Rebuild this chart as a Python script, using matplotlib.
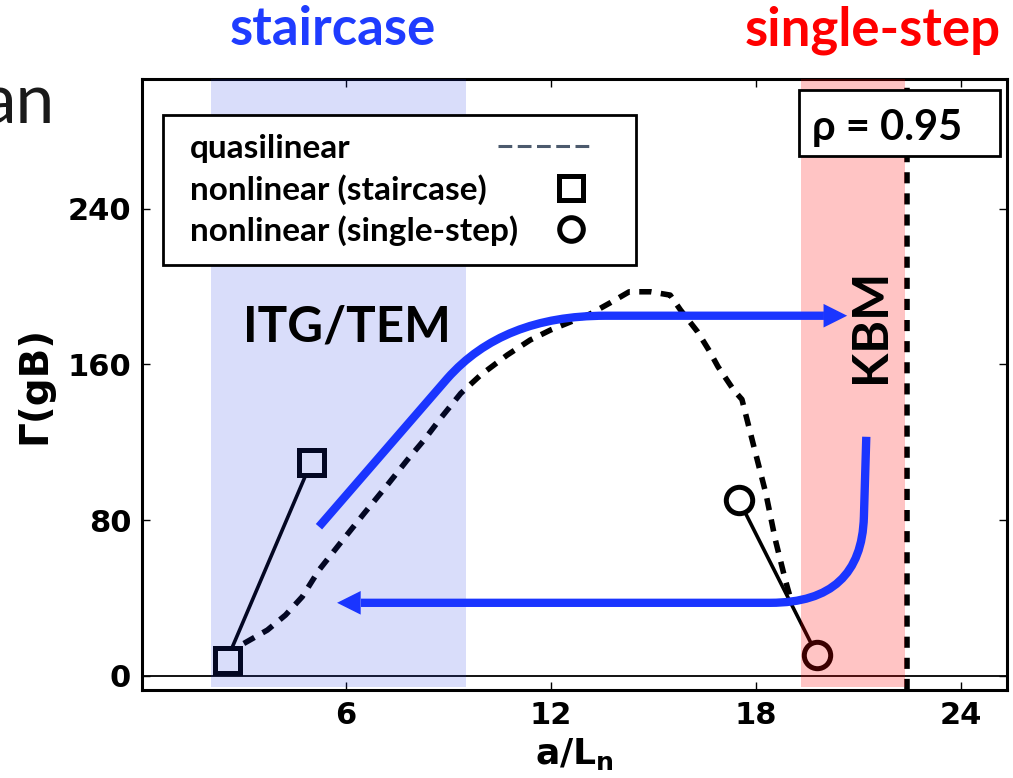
import matplotlib.pyplot as plt
from matplotlib.lines import Line2D
from matplotlib.legend_handler import HandlerLine2D
from matplotlib.offsetbox import DrawingArea
from matplotlib.path import Path
from matplotlib.patches import PathPatch, Rectangle

# quasilinear growth rate (dashed)
ql_x = [3.02, 3.71, 4.24, 4.73, 5.22, 5.8, 6.54, 7.22, 7.8, 8.29, 8.78, 9.37, 9.95,
        10.73, 11.4, 11.99, 13.17, 13.75, 14.3, 14.93, 15.5, 15.8, 16.3, 16.63,
        16.9, 17.36, 17.6, 17.95, 18.3, 18.58, 18.87, 19.05]
ql_y = [16.6, 23.5, 31.2, 40.6, 54.3, 67.2, 83.4, 98, 110.8, 121, 132.3, 145.1, 154.5,
        164.8, 172.5, 177.6, 186, 191.7, 197.3, 197.3, 195.6, 188, 176.8, 167.4,
        158.8, 146.8, 142, 117.7, 93.7, 69.7, 49.2, 38]

# nonlinear runs
stair_x = [2.52, 5.0]
stair_y = [8, 110]
single_x = [17.51, 19.8]
single_y = [90.3, 10.6]

# regions and rho = 0.95 limit
stair_band = (2.05, 9.52)
single_band = (19.32, 22.38)
rho_limit = 22.44

# hand-drawn blue arrows (vertices + path codes), head base -> tip
arrow_up_x = [5.22, 8.98, 10.6, 13.6, 20.0]
arrow_up_y = [76.6, 152.8, 185, 185, 185]
arrow_up_head = [(20.0, 185), (20.68, 185)]
arrow_down_x = [21.24, 21.17, 21.1, 18.44, 6.45]
arrow_down_y = [122.8, 81.7, 37.5, 37.5, 37.5]
arrow_down_head = [(6.45, 37.5), (5.75, 37.5)]
codes = [Path.MOVETO, Path.LINETO, Path.CURVE3, Path.CURVE3, Path.LINETO]

blue = '#1a35ff'
font = ['Lato', 'DejaVu Sans']


class EndMarkerHandler(HandlerLine2D):
    # line may reach left into the text column, marker sits at the right end
    def __init__(self, left_extra=0.0, right_gap=0.0, **kw):
        super().__init__(**kw)
        self.left_extra = left_extra
        self.right_gap = right_gap

    def get_xdata(self, legend, xdescent, ydescent, width, height, fontsize):
        x1 = -xdescent + width - self.right_gap
        return [-xdescent - self.left_extra, x1], [x1 - 10]


fig = plt.figure(figsize=(10.13, 7.78), dpi=100)
ax = fig.add_axes([0.1405, 0.1131, 0.8533, 0.7853])

ax.plot(ql_x, ql_y, color='k', lw=4, ls=(0, (2.2, 1.7)), zorder=2)
ax.plot(stair_x, stair_y, color='k', lw=2.6, marker='s', ms=18, mew=3.6,
        mfc='white', mec='k', zorder=2.2)
ax.plot(single_x, single_y, color='k', lw=2.6, marker='o', ms=19, mew=3.6,
        mfc='white', mec='k', zorder=2.2)
ax.axhline(0, color='k', lw=1.3, zorder=1.5)
ax.axvline(rho_limit, color='k', lw=4, ls=(0, (2.0, 1.8)), zorder=2)

ax.axvspan(*stair_band, ymin=0.0054, ymax=1, color='#1831e0', alpha=0.16, lw=0, zorder=3)
ax.axvspan(*single_band, ymin=0.0054, ymax=1, color='#ff0000', alpha=0.23, lw=0, zorder=3)

for px, py, head in [(arrow_up_x, arrow_up_y, arrow_up_head),
                     (arrow_down_x, arrow_down_y, arrow_down_head)]:
    ax.add_patch(PathPatch(Path(list(zip(px, py)), codes), fill=False, ec=blue,
                           lw=6, capstyle='butt', joinstyle='round', zorder=5))
    ax.annotate('', xy=head[1], xytext=head[0],
                arrowprops=dict(arrowstyle='-|>,head_length=17,head_width=8.5',
                                mutation_scale=1, lw=0, color=blue,
                                shrinkA=0, shrinkB=0), zorder=5)

ax.text(6.05, 171.6, 'ITG/TEM', fontsize=35.6, fontweight='bold', family=font,
        ha='center', va='baseline', zorder=6)
ax.text(21.35, 179.6, 'KBM', fontsize=36, fontweight='bold', family=font,
        rotation=90, ha='center', va='center', zorder=6)

ax.add_patch(Rectangle((0.760, 0.874), 0.2323, 0.108, transform=ax.transAxes,
                       fc='white', ec='k', lw=2, zorder=6))
ax.text(0.7744, 0.900, 'ρ = 0.95', transform=ax.transAxes, fontsize=30,
        fontweight='bold', family=font, va='baseline', ha='left', zorder=7)

handles = [Line2D([], [], color='#4c5a6d', lw=2.2, ls=(0, (4.5, 1.8))),
           Line2D([], [], ls='none', marker='s', ms=17, mew=3.6, mfc='white', mec='k'),
           Line2D([], [], ls='none', marker='o', ms=17, mew=3.6, mfc='white', mec='k')]
labels = ['quasilinear', 'nonlinear (staircase)', 'nonlinear (single-step)']
hmap = {handles[0]: EndMarkerHandler(left_extra=38.2, right_gap=19.4),
        handles[1]: EndMarkerHandler(right_gap=19.4),
        handles[2]: EndMarkerHandler(right_gap=19.4)}
leg = ax.legend(handles, labels, handler_map=hmap, loc='upper left',
                bbox_to_anchor=(0.0243, 0.941), borderaxespad=0, markerfirst=False,
                handlelength=2.0, handletextpad=0.5, labelspacing=0.32,
                borderpad=0.57, fancybox=False, framealpha=1, edgecolor='k',
                prop={'family': font, 'weight': 'bold', 'size': 24})
leg.get_frame().set_linewidth(2)
leg.set_zorder(6)
# left-aligned labels, handles lined up at the right, a bit more room on the left
handle_box = leg.get_children()[0].get_children()[1]
column = handle_box.get_children()[0]
for row in column.get_children():
    row.mode = 'expand'
column.width = 427
handle_box.sep = 0
handle_box.get_children().insert(0, DrawingArea(5.76, 0))

ax.set_xlim(0.05, 25.35)
ax.set_ylim(-7.3, 306.6)
ax.set_xticks([6, 12, 18, 24])
ax.set_yticks([0, 80, 160, 240])
ax.tick_params(direction='in', top=True, right=True, length=6, width=1,
               labelsize=22, pad=8)
for lab in ax.get_xticklabels() + ax.get_yticklabels():
    lab.set_fontweight('bold')
for sp in ax.spines.values():
    sp.set_linewidth(2.2)

ax.set_xlabel(r'$\mathbf{a/L_n}$', fontsize=26, labelpad=4)
ax.set_ylabel('Γ(gB)', fontsize=28, fontweight='bold', labelpad=10)

fig.text(0.329, 0.942, 'staircase', color='#1f3cff', fontsize=38, fontweight='bold',
         family=font, ha='center', va='baseline')
fig.text(0.862, 0.942, 'single-step', color='#ff0000', fontsize=38, fontweight='bold',
         family=font, ha='center', va='baseline')
fig.text(0.0543, 0.8415, 'an', color='#1a1a1a', fontsize=50, family=font,
         ha='right', va='baseline')

fig.savefig('out.png', dpi=100)
